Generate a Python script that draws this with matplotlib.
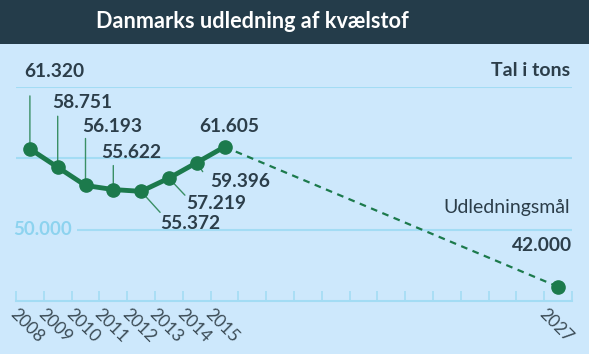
import matplotlib.pyplot as plt
import numpy as np
from matplotlib.patches import Rectangle


years = [2008, 2009, 2010, 2011, 2012, 2013, 2014, 2015]
emissions = [61320, 58751, 56193, 55622, 55372, 57219, 59396, 61605]
goal_year = 2027
goal_value = 42000
grid_values = [50000, 60000, 70000]

BG = "#cde8fc"
NAVY = "#243c4a"
GREEN = "#1c7a4c"
TEXT = "#2c3e4a"
GRID = "#a3dcf4"
LIGHT = "#8dd3ef"
W, H = 589, 354

# label offsets (pixels from point) and leader-line end offsets
label_offsets = [(24, 77), (25, 65), (27, 59), (18, 37), (49, -32), (47, -25), (43, -19), (5, 20)]
leader_ends = [(0, 53), (0, 51), (0, 47), (0, 24), (19, -21), (16, -17), (6, -9), None]


def fmt(v: int) -> str:
    return f"{v:,}".replace(",", ".")


def main() -> None:
    plt.rcParams["font.family"] = ["Lato", "DejaVu Sans"]

    fig = plt.figure(figsize=(W / 100, H / 100), dpi=100, facecolor=BG)
    fig.patches.append(Rectangle((0, 1 - 44 / H), 1, 44 / H, transform=fig.transFigure,
                                 facecolor=NAVY, edgecolor="none"))
    fig.text(252 / W, 1 - 22 / H, "Danmarks udledning af kvælstof", color="white",
             fontsize=15.6, fontweight="bold", ha="center", va="center")

    ax = fig.add_axes([16 / W, 1 - 301 / H, 556 / W, 214 / H])
    ax.set_facecolor("none")
    ax.set_xlim(2007.5, 2027.5)
    ax.set_ylim(40000, 70000)
    for side in ["top", "right", "left"]:
        ax.spines[side].set_visible(False)
    ax.spines["bottom"].set_color(GRID)
    ax.spines["bottom"].set_linewidth(1.5)
    ax.set_xticks(np.arange(2007.5, 2028, 1))
    ax.set_xticklabels([])
    ax.tick_params(axis="x", direction="in", length=7, width=1.2, color=GRID)
    ax.set_yticks([])
    for v in grid_values:
        ax.axhline(v, color=GRID, lw=1.5, zorder=1)

    ax.annotate("50.000", xy=(0, 50000), xycoords=ax.get_yaxis_transform(),
                xytext=(-3, 0), textcoords="offset pixels", ha="left", va="center",
                fontsize=13.5, fontweight="bold", color=LIGHT, zorder=2,
                bbox=dict(boxstyle="square,pad=0.3", facecolor=BG, edgecolor="none"),
                annotation_clip=False)

    ax.plot([years[-1], goal_year], [emissions[-1], goal_value], ls=(0, (3, 2.5)),
            color=GREEN, lw=1.6, zorder=2)

    for yr, v, end in zip(years, emissions, leader_ends):
        if end is None:
            continue
        ax.annotate("", xy=(yr, v), xytext=end, textcoords="offset pixels",
                    arrowprops=dict(arrowstyle="-", color="#3a8f65", lw=1, shrinkA=0, shrinkB=0),
                    zorder=2, annotation_clip=False)

    ax.plot(years, emissions, color=GREEN, lw=3.5, marker="o", ms=9.5, zorder=3,
            solid_joinstyle="round")
    ax.plot([goal_year], [goal_value], "o", color=GREEN, ms=9.5, zorder=3)

    for yr, v, (dx, dy) in zip(years, emissions, label_offsets):
        ax.annotate(fmt(v), xy=(yr, v), xytext=(dx, dy), textcoords="offset pixels",
                    ha="center", va="center", fontsize=13.8, fontweight="bold",
                    color=TEXT, annotation_clip=False)

    ax.annotate(fmt(goal_value), xy=(goal_year, goal_value), xytext=(14, 41),
                textcoords="offset pixels", ha="right", va="center", fontsize=13.8,
                fontweight="bold", color=TEXT, annotation_clip=False)
    fig.text(570 / W, 1 - 207 / H, "Udledningsmål", ha="right", va="center",
             fontsize=14, color=TEXT)
    fig.text(570 / W, 1 - 71 / H, "Tal i tons", ha="right", va="center",
             fontsize=14, fontweight="bold", color=TEXT)

    for yr in years + [goal_year]:
        ax.annotate(str(yr), xy=(yr, 40000), xytext=(-11, -5), textcoords="offset pixels",
                    rotation=-45, rotation_mode="anchor", ha="left", va="top",
                    fontsize=12.5, color="#3b4b55", annotation_clip=False)

    fig.savefig("out.png", dpi=100, facecolor=BG)
    plt.close(fig)


if __name__ == "__main__":
    main()
